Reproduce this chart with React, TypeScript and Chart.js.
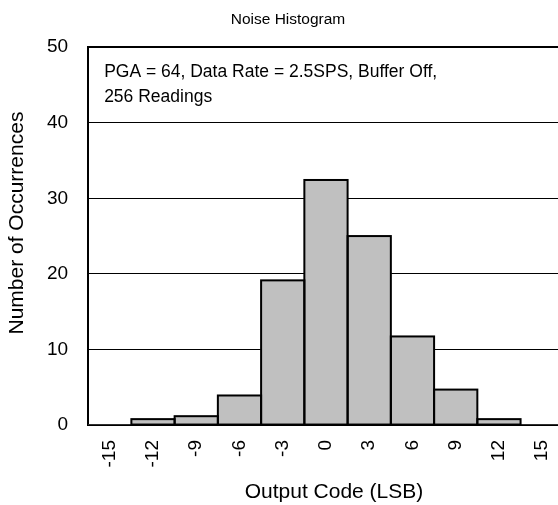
import React, { useEffect, useRef } from "react";
import { Chart, registerables } from "chart.js";

Chart.register(...registerables);

const binLabels = ["-15", "-12", "-9", "-6", "-3", "0", "3", "6", "9", "12", "15"];
const occurrences = [0, 0.78, 1.17, 3.91, 19.14, 32.42, 25.0, 11.72, 4.69, 0.78, 0];
const yMin = 0;
const yMax = 50;
const yStep = 10;
const chartTitle = "Noise Histogram";
const xTitle = "Output Code (LSB)";
const yTitle = "Number of Occurrences";
const noteLines = ["PGA = 64, Data Rate = 2.5SPS, Buffer Off,", "256 Readings"];

const FONT = "'Liberation Sans', Arial, Helvetica, sans-serif";
const TITLE_SIZE = 15.5;
const TICK_SIZE = 19;
const AXIS_TITLE_SIZE = 21;
const NOTE_SIZE = 17.5;
const CANVAS_W = 580;
const CANVAS_H = 505;

const barOutlinePlugin = {
  id: "barOutlinePlugin",
  afterDatasetsDraw(chart: any) {
    const { ctx } = chart;
    const meta = chart.getDatasetMeta(0);
    ctx.save();
    ctx.strokeStyle = "#000";
    ctx.lineWidth = 2;
    meta.data.forEach((bar: any) => {
      const { x, y, base, width } = bar.getProps(["x", "y", "base", "width"], true);
      if (Math.abs(base - y) < 0.5) return;
      ctx.strokeRect(x - width / 2, y, width, base - y);
    });
    ctx.restore();
  },
};

const overlayPlugin = {
  id: "overlayPlugin",
  afterDraw(chart: any) {
    const { ctx, chartArea } = chart;
    ctx.save();
    ctx.fillStyle = "#000";
    // chart title
    ctx.font = `${TITLE_SIZE}px ${FONT}`;
    ctx.textAlign = "center";
    ctx.textBaseline = "middle";
    ctx.fillText(chartTitle, 288, 20);
    // annotation
    ctx.font = `${NOTE_SIZE}px ${FONT}`;
    ctx.textAlign = "left";
    ctx.textBaseline = "middle";
    noteLines.forEach((line, i) => {
      ctx.fillText(line, chartArea.left + 16, chartArea.top + 25 + i * 25);
    });
    // axis titles
    ctx.font = `${AXIS_TITLE_SIZE}px ${FONT}`;
    ctx.textAlign = "center";
    ctx.textBaseline = "middle";
    ctx.fillText(xTitle, (chartArea.left + chartArea.right) / 2 + 8, CANVAS_H - 13);
    ctx.save();
    ctx.translate(17.5, (chartArea.top + chartArea.bottom) / 2 - 13);
    ctx.rotate(-Math.PI / 2);
    ctx.fillText(yTitle, 0, 0);
    ctx.restore();
    ctx.restore();
  },
};

export default function App() {
  const canvasRef = useRef<HTMLCanvasElement | null>(null);

  useEffect(() => {
    const canvas = canvasRef.current;
    if (!canvas) return;
    const chart = new Chart(canvas, {
      type: "bar",
      data: {
        labels: binLabels,
        datasets: [
          {
            data: occurrences,
            backgroundColor: "#c0c0c0",
            borderWidth: 0,
            barPercentage: 1,
            categoryPercentage: 1,
          },
        ],
      },
      options: {
        responsive: false,
        animation: false,
        layout: { padding: { left: 27, right: 0, top: 0, bottom: 22.5 } },
        plugins: {
          legend: { display: false },
          tooltip: { enabled: false },
          title: {
            display: true,
            text: chartTitle,
            color: "rgba(0,0,0,0)",
            font: { family: FONT, size: TITLE_SIZE, weight: "normal" },
            padding: { top: 11, bottom: 17.5 },
          },
        },
        scales: {
          x: {
            grid: { display: false, drawTicks: false },
            border: { display: true, color: "#000", width: 2 },
            ticks: {
              color: "#000",
              font: { family: FONT, size: TICK_SIZE },
              minRotation: 90,
              maxRotation: 90,
              autoSkip: false,
              padding: 15,
            },
            title: { display: false },
          },
          y: {
            min: yMin,
            max: yMax,
            grid: {
              color: "#000",
              drawTicks: false,
              lineWidth: (ctx: any) => (ctx.tick && ctx.tick.value === yMax ? 2 : 1),
            },
            border: { display: true, color: "#000", width: 2 },
            ticks: {
              stepSize: yStep,
              color: "#000",
              font: { family: FONT, size: TICK_SIZE },
              padding: 20,
            },
            title: { display: false },
          },
        },
      },
      plugins: [barOutlinePlugin, overlayPlugin],
    });
    return () => chart.destroy();
  }, []);

  return (
    <div style={{ position: "fixed", left: 0, top: 0, width: CANVAS_W, height: CANVAS_H, background: "#fff" }}>
      <canvas ref={canvasRef} width={CANVAS_W} height={CANVAS_H} style={{ display: "block" }} />
    </div>
  );
}
